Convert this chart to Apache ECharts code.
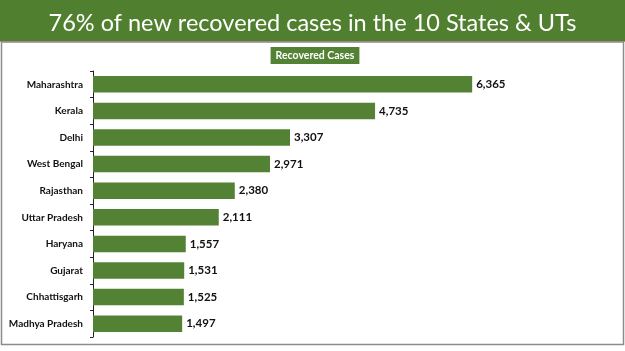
<!DOCTYPE html>
<html>
<head>
<meta charset="utf-8">
<script src="https://cdn.jsdelivr.net/npm/echarts@6/dist/echarts.min.js"></script>
<style>
html, body {margin: 0; padding: 0; background: #fff;}
#chart {width: 625px; height: 351px;}
</style>
</head>
<body>
<div id="chart"></div>
<script>
var states = ['Maharashtra', 'Kerala', 'Delhi', 'West Bengal', 'Rajasthan', 'Uttar Pradesh', 'Haryana', 'Gujarat', 'Chhattisgarh', 'Madhya Pradesh'];
var recovered = [6365, 4735, 3307, 2971, 2380, 2111, 1557, 1531, 1525, 1497];
var seriesName = 'Recovered Cases';
var headline = '76% of new recovered cases in the 10 States & UTs';

var green = '#548235';
var myChart = echarts.init(document.getElementById('chart'));

var option = {
    backgroundColor: '#fff',
    animation: false,
    graphic: [
        {type: 'rect', z: 0, shape: {x: 0, y: 0, width: 625, height: 41}, style: {fill: '#4f7f2f'}},
        {type: 'rect', z: 0, shape: {x: 0, y: 41, width: 625, height: 1}, style: {fill: '#c9885a'}},
        {type: 'rect', z: 0, shape: {x: 1.5, y: 42, width: 622, height: 302.5}, style: {fill: 'none', stroke: '#8c8c8c', lineWidth: 1.5}}
    ],
    title: {
        text: headline,
        left: 'center',
        top: 6,
        textStyle: {color: '#fff', fontFamily: 'Lato', fontWeight: 'normal', fontSize: 23.5}
    },
    legend: {
        data: [seriesName],
        top: 47,
        left: 'center',
        icon: 'none',
        itemWidth: 0,
        itemHeight: 0,
        padding: [3, 5, 3, 0],
        backgroundColor: green,
        textStyle: {color: '#fff', fontFamily: 'Lato', fontWeight: 'bold', fontSize: 10.5}
    },
    grid: {left: 93, top: 71, right: 115, bottom: 14},
    xAxis: {
        type: 'value',
        min: 0,
        max: 7000,
        show: false
    },
    yAxis: {
        type: 'category',
        inverse: true,
        data: states,
        axisLine: {lineStyle: {color: '#222', width: 1}},
        axisTick: {show: true, length: 3, lineStyle: {color: '#222'}},
        axisLabel: {color: '#111', fontFamily: 'Lato', fontWeight: 'bold', fontSize: 10, margin: 10}
    },
    series: [{
        name: seriesName,
        type: 'bar',
        data: recovered,
        barWidth: '62%',
        itemStyle: {color: green},
        label: {
            show: true,
            position: 'right',
            distance: 4,
            color: '#111',
            fontFamily: 'Lato',
            fontWeight: 'bold',
            fontSize: 11.5,
            formatter: function (p) { return p.value.toLocaleString('en-US'); }
        }
    }]
};
myChart.setOption(option);
</script>
</body>
</html>
